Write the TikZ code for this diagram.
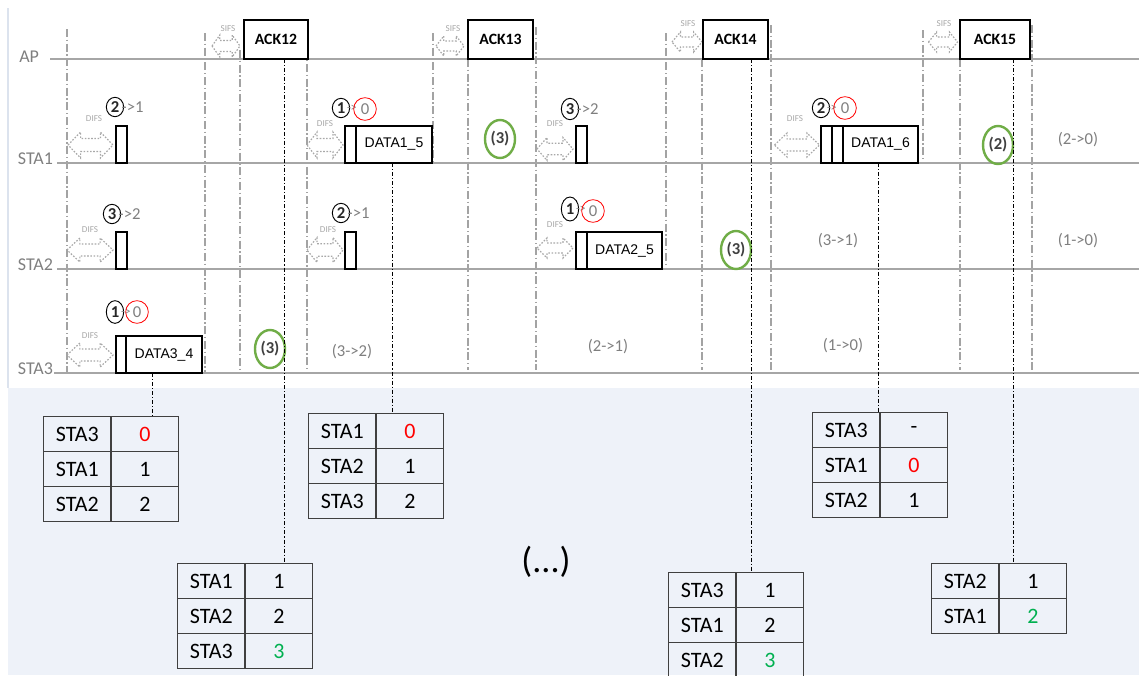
\documentclass[tikz,border=0pt]{standalone}
\usepackage{fontspec}
\setmainfont{Carlito}
\newfontfamily\arialfont{Liberation Sans}
\usetikzlibrary{shapes.geometric,matrix,calc}

\definecolor{tline}{HTML}{A6A6A6}
\definecolor{guidecol}{HTML}{A3A3A3}
\definecolor{lbl}{HTML}{7F7F7F}
\definecolor{panel}{HTML}{EEF2F9}
\definecolor{paneledge}{HTML}{DCE3EE}
\definecolor{okgreen}{HTML}{70AD47}
\definecolor{valgreen}{HTML}{00B050}
\definecolor{gapcol}{HTML}{A8A8A8}
\definecolor{darktext}{HTML}{404040}
\definecolor{tblline}{HTML}{404040}

\tikzset{
  pics/gap/.style n args={2}{code={
    \draw[gapline]
      ({-#1/2},0) -- ({-#1/2+0.28*#1},{-#2/2}) -- ({-#1/2+0.28*#1},{-#2/4})
      -- ({#1/2-0.28*#1},{-#2/4}) -- ({#1/2-0.28*#1},{-#2/2}) -- ({#1/2},0)
      -- ({#1/2-0.28*#1},{#2/2}) -- ({#1/2-0.28*#1},{#2/4})
      -- ({-#1/2+0.28*#1},{#2/4}) -- ({-#1/2+0.28*#1},{#2/2}) -- cycle;
  }}
}

\begin{document}
\begin{tikzpicture}[x=0.75pt,y=-0.75pt,
  every node/.style={inner sep=0pt, outer sep=0pt},
  tl/.style={draw=tline, line width=1.5pt},
  guide/.style={draw=guidecol, line width=1.1pt, dash pattern=on 6pt off 2pt on 1pt off 2pt},
  conn/.style={draw=black, line width=0.7pt, dash pattern=on 3pt off 1.5pt on 0.8pt off 1.5pt},
  gapline/.style={draw=gapcol, line width=0.9pt, dash pattern=on 1.2pt off 1.2pt},
  gaplbl/.style={text=gapcol, font=\fontsize{6.8}{7}\selectfont},
  lane/.style={text=lbl, font=\fontsize{13.5}{15}\selectfont, anchor=base east},
  ack/.style={draw=black, fill=white, line width=1.5pt, minimum height=29.25pt,
              anchor=south west, font=\bfseries\fontsize{11.8}{13}\selectfont},
  txbox/.style={draw=black, fill=white, line width=1.5pt, minimum height=27.75pt,
                anchor=south west, font=\arialfont\fontsize{10.5}{12}\selectfont},
  slot/.style={txbox, minimum width=8.25pt},
  cnt/.style={ellipse, draw=black, line width=0.7pt, minimum width=13pt,
              minimum height=14.5pt, text=black!85, font=\bfseries\fontsize{12.5}{13}\selectfont},
  zero/.style={circle, draw=red, line width=0.6pt, minimum size=17pt,
               text=lbl, font=\fontsize{12.5}{13}\selectfont},
  tail/.style={text=lbl, anchor=west, font=\fontsize{12.5}{13}\selectfont},
  tailsm/.style={text=lbl, anchor=west, font=\fontsize{9}{10}\selectfont},
  cw/.style={ellipse, draw=okgreen, line width=1.8pt, minimum width=22.5pt,
             minimum height=28.5pt, text=darktext, font=\bfseries\fontsize{12.5}{13}\selectfont},
  pend/.style={text=lbl, font=\fontsize{12.5}{13}\selectfont},
  tbl/.style={matrix of nodes, column sep=-1pt, row sep=-1pt, anchor=north west,
              nodes={draw=tblline, line width=1pt, minimum width=50.6pt,
                     minimum height=26.25pt, font=\fontsize{16.5}{18}\selectfont, anchor=center}}
]
\useasboundingbox (0,0) rectangle (1139,675);

% table area and frame edge
\fill[panel] (8,388) rectangle (1139,675);
\draw[paneledge, line width=0.8pt] (8,8) -- (8,388);

% timing marks
\foreach \x/\a/\b in {67/29/373, 205/33/373, 240/50/370, 307/20/370, 433/33/163,
                      468/59/370, 536/27/370, 666/33/269, 702/59/370, 771/25/370,
                      923/30/163, 960/59/370, 1032/25/370}
  \draw[guide] (\x,\a) -- (\x,\b);

% station time lines
\draw[tl] (50,59) -- (1139,59);
\draw[tl] (57,163) -- (1139,163);
\draw[tl] (57,269) -- (1139,269);
\draw[tl] (54,373) -- (1139,373);
\node[lane] (lAP) at (39,62) {AP};
\node[lane] (lS1) at (53,164) {STA1};
\node[lane] (lS2) at (53,270) {STA2};
\node[lane] (lS3) at (53,374) {STA3};

% SIFS gaps and ACK frames
\pic at (226,46) {gap={28}{22}};
\node[gaplbl] at (228,29) {SIFS};
\pic at (450,46) {gap={28}{20}};
\node[gaplbl] at (453,29) {SIFS};
\pic at (687,42) {gap={30}{20}};
\node[gaplbl] at (688,24) {SIFS};
\pic at (943,42) {gap={29}{20}};
\node[gaplbl] at (944,24) {SIFS};
\node[ack, minimum width=48pt] (ack12) at (244,59) {ACK12};
\node[ack, minimum width=48.75pt] (ack13) at (468,59) {ACK13};
\node[ack, minimum width=48.75pt] (ack14) at (703,59) {ACK14};
\node[ack, minimum width=52.5pt] (ack15) at (960,59) {ACK15};

% DIFS gaps
\pic at (90.5,145) {gap={45}{26}};  \node[gaplbl] at (94,119) {DIFS};
\pic at (90,250) {gap={46}{24}};    \node[gaplbl] at (90,230) {DIFS};
\pic at (90,355) {gap={46}{24}};    \node[gaplbl] at (90,336) {DIFS};
\pic at (325,145) {gap={36}{26}};   \node[gaplbl] at (325,124) {DIFS};
\pic at (325,250) {gap={36}{25}};   \node[gaplbl] at (328,230) {DIFS};
\pic at (555,149) {gap={36}{23}};   \node[gaplbl] at (555,124) {DIFS};
\pic at (555,248) {gap={36}{20}};   \node[gaplbl] at (555,225) {DIFS};
\pic at (797,145) {gap={45}{24}};   \node[gaplbl] at (795,119) {DIFS};

% transmissions
\node[slot] (s1a) at (116,163) {};
\node[slot] (s2a) at (116,269) {};
\node[slot] (s3a) at (116,373) {};
\node[txbox, minimum width=57pt] (d34) at (126,373) {DATA3\_4};
\node[slot] (s1b) at (345,163) {};
\node[txbox, minimum width=57pt] (d15) at (356,163) {DATA1\_5};
\node[slot] (s2b) at (345,269) {};
\node[slot] (s1c) at (576,163) {};
\node[slot] (s2c) at (576,269) {};
\node[txbox, minimum width=56.25pt] (d25) at (587,269) {DATA2\_5};
\node[slot] (s1d) at (821,163) {};
\node[slot] (s1e) at (832,163) {};
\node[txbox, minimum width=56.25pt] (d16) at (843,163) {DATA1\_6};

% backoff counters
\node[cnt] (k1a) at (115,107) {2};
\node[tail] at ([xshift=-1.5pt]k1a.east) {->1};
\node[cnt] (k2a) at (112,214) {3};
\node[tail] at ([xshift=-1.5pt]k2a.east) {->2};
\node[cnt, minimum height=17pt] (k3a) at (115,312) {1};
\node[tailsm] at ([xshift=-2pt]k3a.east) {->};
\node[zero] (z3a) at (137,312) {0};
\node[cnt] (k1b) at (341,108) {1};
\node[tailsm] at ([xshift=-2pt]k1b.east) {->};
\node[zero] (z1b) at (365,109) {0};
\node[cnt] (k2b) at (341,213) {2};
\node[tail] at ([xshift=-1.5pt]k2b.east) {->1};
\node[cnt, minimum height=16pt] (k1c) at (570,109) {3};
\node[tail] at ([xshift=-1.5pt]k1c.east) {->2};
\node[cnt, minimum height=18pt] (k2c) at (570,209) {1};
\node[tailsm] at ([xshift=-2pt]k2c.east) {->};
\node[zero] (z2c) at (593,211) {0};
\node[cnt] (k1d) at (821,108) {2};
\node[tailsm] at ([xshift=-2pt]k1d.east) {->};
\node[zero] (z1d) at (845,108) {0};

% remaining windows
\node[cw] (w3b) at (270,349) {(3)};
\node[cw] (w1c) at (500,139) {(3)};
\node[cw] (w2d) at (736,250) {(3)};
\node[cw] (w1e) at (998,145) {(2)};
\node[pend] (p3b) at (352,352) {(3->2)};
\node[pend] (p3c) at (608,347) {(2->1)};
\node[pend] (p3d) at (843,346) {(1->0)};
\node[pend] (p2d) at (838,241) {(3->1)};
\node[pend] (p2e) at (1078,241) {(1->0)};
\node[pend] (p1e) at (1078,140) {(2->0)};

% queue tables
\matrix (tA) [tbl] at (43,416) {
  STA3 & |[text=red]| 0 \\
  STA1 & 1 \\
  STA2 & 2 \\
};
\matrix (tB) [tbl] at (308,413) {
  STA1 & |[text=red]| 0 \\
  STA2 & 1 \\
  STA3 & 2 \\
};
\matrix (tC) [tbl] at (812,412) {
  STA3 & - \\
  STA1 & |[text=red]| 0 \\
  STA2 & 1 \\
};
\matrix (tD) [tbl] at (177,563) {
  STA1 & 1 \\
  STA2 & 2 \\
  STA3 & |[text=valgreen]| 3 \\
};
\matrix (tE) [tbl] at (668,572) {
  STA3 & 1 \\
  STA1 & 2 \\
  STA2 & |[text=valgreen]| 3 \\
};
\matrix (tF) [tbl] at (931,563) {
  STA2 & 1 \\
  STA1 & |[text=valgreen]| 2 \\
};
\node[font=\fontsize{27}{30}\selectfont] (more) at (546,562) {(...)};

% links from frames to tables
\coordinate (x34) at (152,0);
\coordinate (x12) at (284,0);
\coordinate (x15) at (392,0);
\coordinate (x14) at (751,0);
\coordinate (x16) at (878,0);
\coordinate (x15a) at (1013,0);
\draw[conn] (d34.south -| x34) -- (tA.north -| x34);
\draw[conn] (ack12.south -| x12) -- (tD.north -| x12);
\draw[conn] (d15.south -| x15) -- (tB.north -| x15);
\draw[conn] (ack14.south -| x14) -- (tE.north -| x14);
\draw[conn] (d16.south -| x16) -- (tC.north -| x16);
\draw[conn] (ack15.south -| x15a) -- (tF.north -| x15a);
\end{tikzpicture}
\end{document}
